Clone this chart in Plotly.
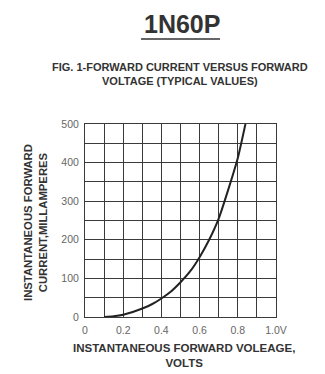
import plotly.graph_objects as go

# Forward characteristic of the 1N60P diode (typical values)
voltage = [0.10, 0.15, 0.20, 0.25, 0.30, 0.35, 0.40, 0.45, 0.50, 0.55,
           0.60, 0.65, 0.70, 0.75, 0.80, 0.84]
current = [0, 2, 6, 13, 22, 33, 48, 66, 90, 118,
           155, 200, 255, 330, 412, 500]

x_tickvals = [0, 0.2, 0.4, 0.6, 0.8, 1.0]
x_ticktext = ["0", "0.2", "0.4", "0.6", "0.8", "1.0V"]
y_tickvals = [0, 100, 200, 300, 400, 500]

grid_color = "#3a3a3a"
text_color = "#333"
font_family = "Liberation Sans, Arial, sans-serif"
label_font = dict(family=font_family, size=10.5, color="#666")

# Plot area in pixels (left, right, top, bottom) within a 325x374 page
W, H = 325, 374
L, R, T, B = 85, 276, 124, 317

fig = go.Figure()
fig.add_trace(go.Scatter(
    x=voltage, y=current, mode="lines",
    line=dict(color="#222", width=2, shape="spline", smoothing=0.6),
    hoverinfo="skip", showlegend=False,
))

axis_common = dict(
    showgrid=True, gridcolor=grid_color, gridwidth=1,
    zeroline=False, showline=True, linecolor=grid_color, linewidth=1,
    mirror=True, ticks="", tickfont=label_font, fixedrange=True,
)

fig.update_xaxes(
    range=[0, 1.0], tickvals=x_tickvals, ticktext=x_ticktext,
    minor=dict(dtick=0.1, tick0=0, showgrid=True, gridcolor=grid_color, gridwidth=1),
    ticklabelstandoff=3, **axis_common,
)
fig.update_yaxes(
    range=[0, 500], tickvals=y_tickvals,
    minor=dict(dtick=50, tick0=0, showgrid=True, gridcolor=grid_color, gridwidth=1),
    ticklabelstandoff=3, **axis_common,
)


def px_to_paper(px, py):
    return (px - L) / (R - L), (H - py - (H - B)) / (B - T)


# Titles placed by pixel centre
texts = [
    ("<b>1N60P</b>", 182, 24, 25, 0),
    ("<b>FIG. 1-FORWARD CURRENT VERSUS FORWARD<br>VOLTAGE (TYPICAL VALUES)</b>", 180, 74, 11, 0),
    ("<b>INSTANTANEOUS FORWARD<br>CURRENT,MILLAMPERES</b>", 35, 223, 11.3, -90),
    ("<b>INSTANTANEOUS FORWARD VOLEAGE,<br>VOLTS</b>", 184, 355, 11.5, 0),
]
for text, px, py, size, angle in texts:
    xp, yp = px_to_paper(px, py)
    fig.add_annotation(
        text=text, font=dict(family=font_family, size=size, color=text_color),
        textangle=angle, xref="paper", yref="paper", showarrow=False,
        xanchor="center", yanchor="middle", align="center", x=xp, y=yp,
    )

# Underline beneath the part number
ux0, uy = px_to_paper(141, 39)
ux1, _ = px_to_paper(220, 39)
fig.add_shape(type="line", xref="paper", yref="paper",
              x0=ux0, x1=ux1, y0=uy, y1=uy,
              line=dict(color=text_color, width=1.5))

fig.update_layout(
    width=W, height=H,
    margin=dict(l=L, r=W - R, t=T, b=H - B),
    paper_bgcolor="white", plot_bgcolor="white",
    showlegend=False,
)

fig.write_html("out.html", config={"displayModeBar": False})
